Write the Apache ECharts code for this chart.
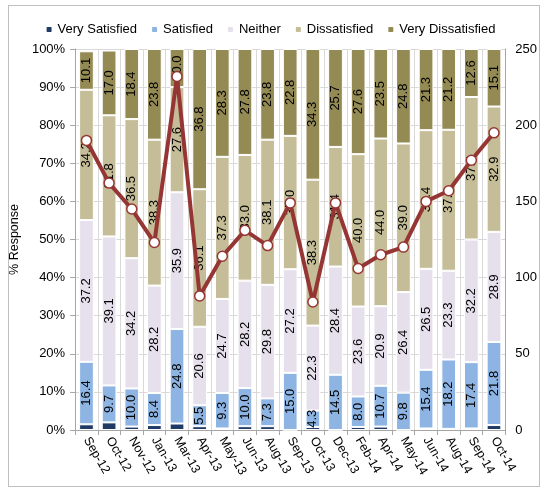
<!DOCTYPE html>
<html>
<head>
<meta charset="utf-8">
<script src="https://cdn.jsdelivr.net/npm/echarts@6/dist/echarts.min.js"></script>
<style>
  html, body { margin: 0; padding: 0; background: #fff; }
  #frame { position: absolute; left: 8px; top: 5px; width: 530px; height: 480px; border: 1px solid #bfbfbf; }
  #main { position: absolute; left: 0; top: 0; width: 540px; height: 487px; }
</style>
</head>
<body>
<div id="frame"></div>
<div id="main"></div>
<script>
// 调查月份
const months = ['Sep-12', 'Oct-12', 'Nov-12', 'Jan-13', 'Mar-13', 'Apr-13', 'May-13', 'Jun-13', 'Aug-13', 'Sep-13',
  'Oct-13', 'Dec-13', 'Feb-14', 'Apr-14', 'May-14', 'Jun-14', 'Aug-14', 'Sep-14', 'Oct-14'];

// 各满意度占比 (%)
const verySatisfied = [1.5, 2.0, 0.9, 1.3, 1.7, 1.0, 0.4, 1.0, 1.0, 0.0, 0.8, 0.0, 0.8, 0.9, 0.0, 0.4, 0.3, 0.4, 1.3];
const satisfied = [16.4, 9.7, 10.0, 8.4, 24.8, 5.5, 9.3, 10.0, 7.3, 15.0, 4.3, 14.5, 8.0, 10.7, 9.8, 15.4, 18.2, 17.4, 21.8];
const neither = [37.2, 39.1, 34.2, 28.2, 35.9, 20.6, 24.7, 28.2, 29.8, 27.2, 22.3, 28.4, 23.6, 20.9, 26.4, 26.5, 23.3, 32.2, 28.9];
const dissatisfied = [34.2, 31.8, 36.5, 38.3, 27.6, 36.1, 37.3, 33.0, 38.1, 35.0, 38.3, 31.4, 40.0, 44.0, 39.0, 36.4, 37.0, 37.4, 32.9];
const veryDissatisfied = [10.1, 17.0, 18.4, 23.8, 10.0, 36.8, 28.3, 27.8, 23.8, 22.8, 34.3, 25.7, 27.6, 23.5, 24.8, 21.3, 21.2, 12.6, 15.1];

// 右轴的响应数
const responses = [190, 162, 145, 123, 232, 88, 114, 131, 121, 149, 84, 149, 106, 115, 120, 150, 157, 177, 195];

const font = 'Liberation Sans';
const gridColor = '#d9d9d9';

function barSeries(name, data, color, showLabel) {
  return {
    name: name,
    type: 'bar',
    stack: 'pct',
    barWidth: '65%',
    data: data,
    itemStyle: { color: color, borderColor: '#fff', borderWidth: 1 },
    label: {
      show: showLabel,
      position: 'inside',
      rotate: 90,
      fontFamily: font,
      fontSize: 13,
      color: '#000',
      formatter: p => p.value.toFixed(1)
    }
  };
}

let myChart = echarts.init(document.getElementById('main'));

let option = {
  animation: false,
  textStyle: { fontFamily: font },
  legend: {
    data: ['Very Satisfied', 'Satisfied', 'Neither', 'Dissatisfied', 'Very Dissatisfied'],
    top: 18,
    left: 'center',
    itemWidth: 7,
    itemHeight: 7,
    itemGap: 13,
    textStyle: { fontFamily: font, fontSize: 13, color: '#000' }
  },
  grid: { left: 70, right: 32, top: 49, bottom: 57 },
  xAxis: {
    type: 'category',
    data: months,
    axisLine: { lineStyle: { color: '#a6a6a6' } },
    axisTick: { show: true, length: 5, lineStyle: { color: '#a6a6a6' } },
    splitLine: { show: true, lineStyle: { color: gridColor } },
    axisLabel: { rotate: -60, interval: 0, fontSize: 12.5, color: '#000', margin: 8, fontFamily: font }
  },
  yAxis: [
    {
      type: 'value',
      min: 0,
      max: 100,
      interval: 10,
      name: '% Response',
      nameLocation: 'middle',
      nameGap: 42,
      nameTextStyle: { fontSize: 12.5, color: '#000', fontFamily: font },
      axisLine: { show: true, lineStyle: { color: '#a6a6a6' } },
      axisTick: { show: true, length: 5, lineStyle: { color: '#a6a6a6' } },
      splitLine: { lineStyle: { color: gridColor } },
      axisLabel: { formatter: '{value}%', fontSize: 13, color: '#000', margin: 10, fontFamily: font }
    },
    {
      type: 'value',
      min: 0,
      max: 250,
      interval: 50,
      position: 'right',
      axisLine: { show: true, lineStyle: { color: '#a6a6a6' } },
      axisTick: { show: false },
      splitLine: { show: false },
      axisLabel: { fontSize: 13, color: '#000', margin: 10, fontFamily: font }
    }
  ],
  series: [
    barSeries('Very Satisfied', verySatisfied, '#1f3a64', false),
    barSeries('Satisfied', satisfied, '#8db4e2', true),
    barSeries('Neither', neither, '#e6e0ec', true),
    barSeries('Dissatisfied', dissatisfied, '#c4bd97', true),
    barSeries('Very Dissatisfied', veryDissatisfied, '#948a54', true),
    {
      name: 'Responses',
      type: 'line',
      yAxisIndex: 1,
      data: responses,
      z: 10,
      symbol: 'circle',
      symbolSize: 10,
      lineStyle: { color: '#963634', width: 4 },
      itemStyle: { color: '#fff', borderColor: '#963634', borderWidth: 1.5 }
    }
  ]
};

myChart.setOption(option);
</script>
</body>
</html>
